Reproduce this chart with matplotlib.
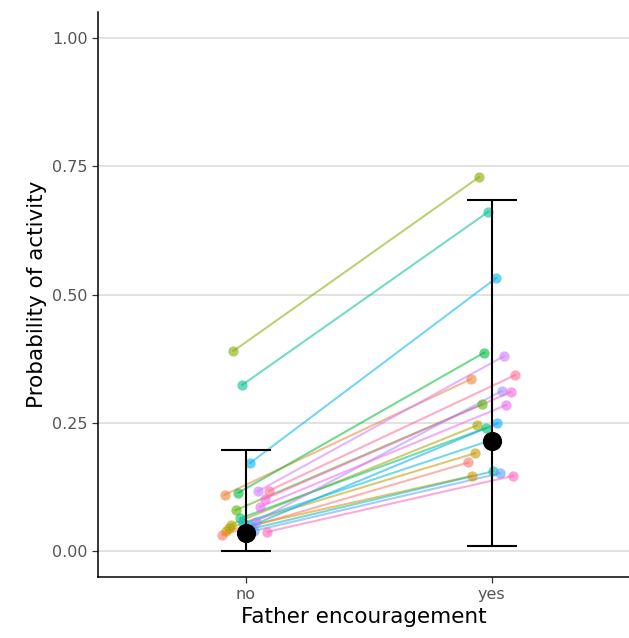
import numpy as np
import matplotlib
matplotlib.use("Agg")
import matplotlib.pyplot as plt

# one row per subject (ordered by colour level)
jitter = [-0.095, -0.086, -0.079, -0.068, -0.060, -0.050, -0.041, -0.030, -0.024, -0.014,
          0.007, -0.012, 0.018, 0.023, 0.034, 0.040, 0.050, 0.060, 0.077, 0.088, 0.095]
p_no = [0.032, 0.110, 0.040, 0.046, 0.052, 0.390, 0.080, 0.114, 0.064, 0.324,
        0.042, 0.055, 0.172, 0.050, 0.040, 0.058, 0.117, 0.087, 0.102, 0.038, 0.118]
p_yes = [0.173, 0.335, 0.147, 0.191, 0.245, 0.729, 0.286, 0.387, 0.240, 0.661,
         0.156, 0.215, 0.532, 0.249, 0.152, 0.312, 0.380, 0.285, 0.310, 0.147, 0.343]

conditions = ["no", "yes"]
est = [0.035, 0.214]
ci_low = [0.001, 0.010]
ci_high = [0.198, 0.684]


def hue_pal(n, c=100, l=65):
    # ggplot2-style hcl palette
    Xn, Yn, Zn = 95.047, 100.0, 108.883
    un = 4 * Xn / (Xn + 15 * Yn + 3 * Zn)
    vn = 9 * Yn / (Xn + 15 * Yn + 3 * Zn)
    M = np.array([[3.2404542, -1.5371385, -0.4985314],
                  [-0.9692660, 1.8760108, 0.0415560],
                  [0.0556434, -0.2040259, 1.0572252]])
    cols = []
    for h in np.linspace(15, 375, n + 1)[:n]:
        u = c * np.cos(np.radians(h))
        v = c * np.sin(np.radians(h))
        Y = Yn * ((l + 16) / 116) ** 3
        up = u / (13 * l) + un
        vp = v / (13 * l) + vn
        X = Y * 9 * up / (4 * vp)
        Z = Y * (12 - 3 * up - 20 * vp) / (4 * vp)
        rgb = M @ (np.array([X, Y, Z]) / 100)
        rgb = np.where(rgb <= 0.0031308, 12.92 * rgb, 1.055 * np.clip(rgb, 0, None) ** (1 / 2.4) - 0.055)
        cols.append(tuple(np.clip(rgb, 0, 1)))
    return cols


colors = hue_pal(len(p_no))

fig = plt.figure(figsize=(6.29, 6.38), dpi=100)
ax = fig.add_axes([0.156, 0.0956, 0.844, 0.8856])

for j, a, b, col in zip(jitter, p_no, p_yes, colors):
    ax.plot([1 + j, 2 + j], [a, b], color=col, alpha=0.55, lw=1.5, zorder=2)
    ax.scatter([1 + j, 2 + j], [a, b], color=col, alpha=0.6, s=55, lw=0, zorder=3)

xpos = np.arange(1, len(conditions) + 1)
yerr = [np.array(est) - np.array(ci_low), np.array(ci_high) - np.array(est)]
ax.errorbar(xpos, est, yerr=yerr, fmt="none", ecolor="black", elinewidth=1.5,
            capsize=18, capthick=1.5, zorder=4)
ax.scatter(xpos, est, color="black", s=165, zorder=5)

ax.set_xlim(0.4, 2.558)
ax.set_ylim(-0.05, 1.05)
ax.set_xticks(xpos)
ax.set_xticklabels(conditions)
ax.set_yticks([0, 0.25, 0.5, 0.75, 1.0])
ax.set_yticklabels(["0.00", "0.25", "0.50", "0.75", "1.00"])
ax.yaxis.grid(True, color="#DADADA", lw=1.1)
ax.set_axisbelow(True)

for side in ["top", "right"]:
    ax.spines[side].set_visible(False)
for side in ["left", "bottom"]:
    ax.spines[side].set_linewidth(1.1)
    ax.spines[side].set_color("black")
ax.tick_params(axis="both", colors="#333333", labelcolor="#555555", labelsize=11.5,
               length=4, width=0.9)

ax.set_xlabel("Father encouragement", fontsize=15.5, labelpad=3)
ax.set_ylabel("Probability of activity", fontsize=15.5, labelpad=4)

fig.savefig("out.png", dpi=100)
